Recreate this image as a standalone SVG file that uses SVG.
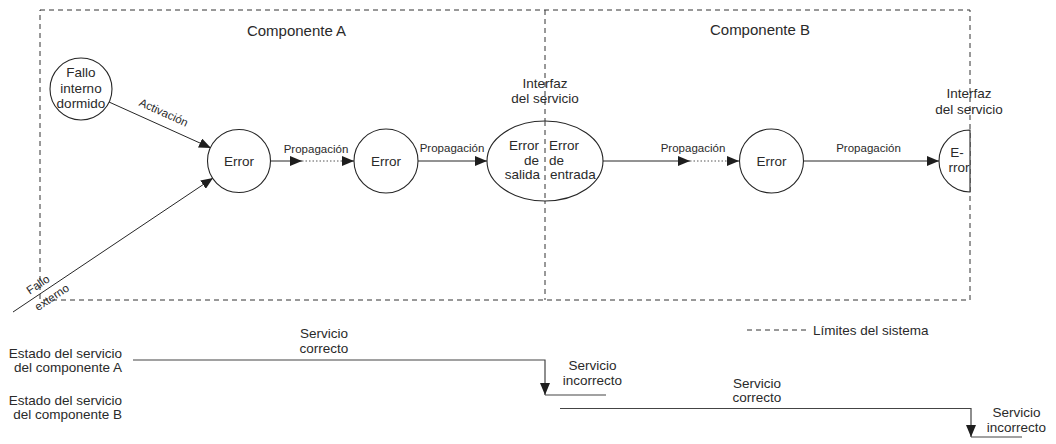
<svg xmlns="http://www.w3.org/2000/svg" width="1056" height="444" viewBox="0 0 1056 444">
  <style>
    text { font-family: "Liberation Sans", Arial, sans-serif; fill: #2a2a2a; }
    .title { font-size: 15px; text-anchor: middle; }
    .node-label { font-size: 13.5px; text-anchor: middle; }
    .edge-label { font-size: 11.5px; text-anchor: middle; }
    .small { font-size: 13.5px; }
    .mid { text-anchor: middle; }
    .end { text-anchor: end; }
    .shape { fill: #ffffff; stroke: #262626; stroke-width: 1.1; }
    .boundary { fill: none; stroke: #333333; stroke-width: 1; stroke-dasharray: 5 4; }
    .edge { fill: none; stroke: #262626; stroke-width: 1; }
    .dotted { fill: none; stroke: #555555; stroke-width: 1; stroke-dasharray: 1.5 2; }
    .timeline { fill: none; stroke: #444444; stroke-width: 1.2; }
  </style>
  <defs>
    <marker id="arrow" viewBox="0 0 12 10" refX="12" refY="5" markerWidth="12" markerHeight="10" markerUnits="userSpaceOnUse" orient="auto">
      <path d="M0,0 L12,5 L0,10 z" fill="#1e1e1e"/>
    </marker>
  </defs>

  <!-- system boundaries -->
  <g id="boundaries">
    <rect class="boundary" x="40" y="10" width="930" height="290"/>
    <line class="boundary" x1="545" y1="10" x2="545" y2="300"/>
    <text class="title" x="296.5" y="35.5">Componente A</text>
    <text class="title" x="760" y="34.5">Componente B</text>
  </g>

  <!-- connectors -->
  <g id="connectors">
    <line class="edge" x1="109" y1="102" x2="211" y2="148" marker-end="url(#arrow)"/>
    <text class="edge-label" font-size="12.5" transform="translate(162,116) rotate(24.5)">Activación</text>

    <line class="edge" x1="13" y1="312" x2="213" y2="178" marker-end="url(#arrow)"/>
    <text class="edge-label" font-size="12.5" transform="translate(40.2,287.8) rotate(-33.75)">Fallo</text>
    <text class="edge-label" font-size="12.5" transform="translate(54,300.5) rotate(-33.75)">externo</text>

    <line class="edge" x1="271" y1="161" x2="302" y2="161" marker-end="url(#arrow)"/>
    <line class="dotted" x1="302" y1="161" x2="343" y2="161"/>
    <line class="edge" x1="342" y1="161" x2="354" y2="161" marker-end="url(#arrow)"/>
    <text class="edge-label" x="316" y="153">Propagación</text>

    <line class="edge" x1="418" y1="161" x2="487" y2="161" marker-end="url(#arrow)"/>
    <text class="edge-label" x="452" y="152">Propagación</text>

    <line class="edge" x1="603" y1="161" x2="690" y2="161" marker-end="url(#arrow)"/>
    <line class="dotted" x1="690" y1="161" x2="728" y2="161"/>
    <line class="edge" x1="727" y1="161" x2="739" y2="161" marker-end="url(#arrow)"/>
    <text class="edge-label" x="693" y="152">Propagación</text>

    <line class="edge" x1="803" y1="161" x2="939" y2="161" marker-end="url(#arrow)"/>
    <text class="edge-label" x="868.5" y="152">Propagación</text>
  </g>

  <!-- nodes -->
  <g id="fallo-interno">
    <circle class="shape" cx="81" cy="89" r="31"/>
    <text class="node-label" font-size="14" x="81" y="77">Fallo</text>
    <text class="node-label" font-size="14" x="81" y="92.5">interno</text>
    <text class="node-label" font-size="14" x="81" y="108">dormido</text>
  </g>

  <g id="error-a1">
    <circle class="shape" cx="239" cy="161" r="31.5"/>
    <text class="node-label" x="239" y="166">Error</text>
  </g>

  <g id="error-a2">
    <circle class="shape" cx="386" cy="161" r="32"/>
    <text class="node-label" x="386" y="166">Error</text>
  </g>

  <g id="interfaz-a-b">
    <ellipse class="shape" cx="545" cy="161" rx="58" ry="40"/>
    <line class="boundary" x1="545" y1="121" x2="545" y2="201"/>
    <text class="small end" x="539" y="150">Error</text>
    <text class="small end" x="539" y="164.5">de</text>
    <text class="small end" x="540" y="179">salida</text>
    <text class="small" x="549" y="150">Error</text>
    <text class="small" x="549" y="164.5">de</text>
    <text class="small" x="550" y="179">entrada</text>
    <text class="node-label" x="545" y="88">Interfaz</text>
    <text class="node-label" x="545" y="103">del servicio</text>
  </g>

  <g id="error-b">
    <circle class="shape" cx="771.5" cy="161" r="32"/>
    <text class="node-label" x="771.5" y="166">Error</text>
  </g>

  <g id="interfaz-b">
    <path class="shape" d="M970,130 A31,31 0 0 0 970,192 Z"/>
    <text class="node-label" font-size="13" x="957" y="157">E-</text>
    <text class="node-label" font-size="13" x="959" y="172">rror</text>
    <text class="node-label" x="969" y="98">Interfaz</text>
    <text class="node-label" x="969" y="114">del servicio</text>
  </g>

  <!-- legend -->
  <g id="legend">
    <line class="boundary" x1="747" y1="330" x2="809" y2="330"/>
    <text class="small" x="813" y="334.5">Límites del sistema</text>
  </g>

  <!-- service state over time -->
  <g id="service-states">
    <text class="small end" x="122" y="358">Estado del servicio</text>
    <text class="small end" x="122" y="372">del componente A</text>
    <text class="small end" x="122" y="405">Estado del servicio</text>
    <text class="small end" x="122" y="419">del componente B</text>

    <polyline class="timeline" points="133,360 545,360 545,395" marker-end="url(#arrow)"/>
    <line class="timeline" x1="545" y1="395" x2="606" y2="395"/>
    <text class="small mid" x="324" y="338">Servicio</text>
    <text class="small mid" x="324" y="353">correcto</text>
    <text class="small mid" x="592.5" y="370">Servicio</text>
    <text class="small mid" x="592.5" y="385">incorrecto</text>

    <polyline class="timeline" points="560,408.5 971,408.5 971,437" marker-end="url(#arrow)"/>
    <line class="timeline" x1="971" y1="437" x2="1022" y2="437"/>
    <text class="small mid" x="757" y="388">Servicio</text>
    <text class="small mid" x="757" y="402">correcto</text>
    <text class="small mid" x="1016.5" y="417">Servicio</text>
    <text class="small mid" x="1016.5" y="432">incorrecto</text>
  </g>
</svg>
